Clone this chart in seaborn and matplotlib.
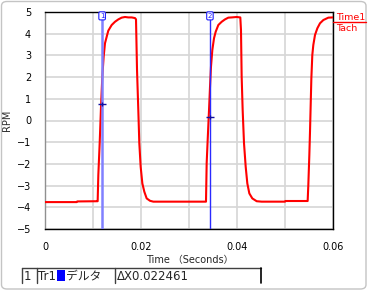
import numpy as np
import pandas as pd
import matplotlib
matplotlib.use("Agg")
import matplotlib.pyplot as plt
import seaborn as sns
from matplotlib.patches import FancyBboxPatch, Rectangle
from matplotlib.lines import Line2D

# ---------------- data ----------------
time_s = [
    0.0, 0.0066, 0.0067, 0.01090, 0.01097, 0.01111, 0.01139, 0.01167, 0.01194,
    0.01222, 0.01250, 0.01285, 0.01319, 0.01389, 0.01458, 0.01528, 0.01597,
    0.01667, 0.01736, 0.01806, 0.01875, 0.01896, 0.01917, 0.01944, 0.01965,
    0.01993, 0.02028, 0.02069, 0.02118, 0.02188, 0.02257,
    0.03340, 0.03354, 0.03368, 0.03389, 0.03417, 0.03438, 0.03458, 0.03486,
    0.03521, 0.03556, 0.03611, 0.03681, 0.03750, 0.03819, 0.03889, 0.03993,
    0.04069, 0.04083, 0.04097, 0.04118, 0.04146, 0.04181, 0.04215, 0.04257,
    0.04319, 0.04410, 0.04514, 0.0500, 0.0501,
    0.05472, 0.05486, 0.05507, 0.05521, 0.05535, 0.05549, 0.05569, 0.05590,
    0.05625, 0.05674, 0.05729, 0.05799, 0.05903, 0.06000,
]
rpm = [
    -3.76, -3.76, -3.73, -3.72, -3.72, -2.51, -1.05, 0.64, 2.02,
    2.94, 3.56, 3.86, 4.14, 4.40, 4.55, 4.66, 4.74,
    4.77, 4.75, 4.75, 4.72, 4.66, 2.33, 0.48, -1.05,
    -2.13, -2.90, -3.28, -3.59, -3.70, -3.74,
    -3.74, -3.74, -1.97, -0.90, 0.48, 1.56, 2.48, 3.25,
    3.79, 4.09, 4.40, 4.55, 4.66, 4.74, 4.75, 4.77,
    4.75, 4.17, 2.02, 0.48, -1.05, -2.13, -2.90, -3.36,
    -3.59, -3.72, -3.74, -3.74, -3.71,
    -3.71, -2.97, -1.59, -0.51, 0.71, 1.94, 3.02, 3.48,
    3.94, 4.25, 4.48, 4.63, 4.74, 4.75,
]
cursor_times = [0.01190, 0.03436]
cursor_values = [0.75, 0.15]
cursor_names = ["1", "2"]
x_ticks = [0.0, 0.01, 0.02, 0.03, 0.04, 0.05, 0.06]
x_tick_labels = ["0", "", "0.02", "", "0.04", "", "0.06"]
y_ticks = [-5, -4, -3, -2, -1, 0, 1, 2, 3, 4, 5]
legend_labels = ["Time1", "Tach"]
status_fields = ["1", "Tr1", "デルタ", "ΔX0.022461"]

# ---------------- figure ----------------
W, H = 369, 291
sns.set_style("white")
plt.rcParams["font.family"] = ["DejaVu Sans", "Noto Sans CJK JP"]

fig = plt.figure(figsize=(W / 100, H / 100), dpi=100)
fig.patch.set_facecolor("white")


def fx(px):
    return px / W


def fy(py):
    return 1 - py / H


ax = fig.add_axes([fx(45), fy(229), fx(333) - fx(45), fy(12) - fy(229)])

df = pd.DataFrame({"t": time_s, "rpm": rpm})
sns.lineplot(data=df, x="t", y="rpm", ax=ax, color="#ff0000", lw=1.5,
             sort=False, estimator=None, zorder=3)

ax.set_xlim(0, 0.06)
ax.set_ylim(-5, 5)
ax.set_xticks(x_ticks)
ax.set_xticklabels(x_tick_labels)
ax.set_yticks(y_ticks)
ax.set_yticklabels([str(v).replace("-", "\u2212") for v in y_ticks])
ax.grid(True, color="#d6d6d6", lw=1.2, zorder=0)
ax.set_axisbelow(True)
ax.tick_params(axis="both", direction="out", length=3, width=0.8,
               colors="black", labelsize=7)
ax.tick_params(axis="y", pad=7)
ax.tick_params(axis="x", pad=6)
for s in ["top", "bottom", "right"]:
    ax.spines[s].set_color("black")
    ax.spines[s].set_linewidth(1.0)
ax.spines["left"].set_color("#909090")
ax.spines["left"].set_linewidth(1.0)
ax.set_xlabel("")
ax.set_ylabel("RPM", fontsize=7)
ax.yaxis.set_label_coords((12 - 45) / 288, 0.5)

# cursors
cur_colors = ["#8080ff", "#2a2aff"]
cur_lw = [1.8, 1.0]
for ct, cv, cn, cc, lw in zip(cursor_times, cursor_values, cursor_names,
                              cur_colors, cur_lw):
    ax.axvline(ct, color=cc, lw=lw, zorder=4)
    ax.plot([ct], [cv], marker="_", ms=6, mew=1.0, color="#1010a0", zorder=5)
    ax.plot([ct], [cv], marker="|", ms=3, mew=1.0, color="#1010a0", zorder=5)
    ax.text(ct, 4.96, cn, ha="center", va="top", fontsize=5, color="#2020ff",
            zorder=6,
            bbox=dict(boxstyle="round,pad=0.15,rounding_size=0.2",
                      fc="white", ec="#2020ff", lw=0.8))

# legend labels at right
fig.text(fx(336), fy(17), legend_labels[0], color="#ff0000", fontsize=6.8,
         ha="left", va="center")
fig.add_artist(Line2D([fx(333), fx(366)], [fy(22), fy(22)], color="#ff0000",
                      lw=1.0))
fig.text(fx(336), fy(28.5), legend_labels[1], color="#ff0000", fontsize=6.8,
         ha="left", va="center")

# x-axis label
fig.text(fx(190), fy(260), "Time \uff08Seconds\uff09", fontsize=7, ha="center",
         va="center")

# status bar
top, bot = 268, 283
fig.add_artist(Line2D([fx(22), fx(261)], [fy(top), fy(top)], color="#404040",
                      lw=1.0))
for xv in [22, 36.5, 115]:
    fig.add_artist(Line2D([fx(xv), fx(xv)], [fy(top), fy(bot)],
                          color="#404040", lw=1.0))
fig.add_artist(Line2D([fx(261), fx(261)], [fy(top), fy(bot)], color="black",
                      lw=1.2))
fig.add_artist(Rectangle((fx(56.5), fy(281)), fx(65) - fx(56.5),
                         fy(270) - fy(281), fc="#0000ff", ec="none"))
ty = fy(276)
fig.text(fx(24), ty, status_fields[0], fontsize=8.5, ha="left", va="center")
fig.text(fx(38), ty, status_fields[1], fontsize=8.5, ha="left", va="center")
fig.text(fx(66), ty, status_fields[2], fontsize=8.5, ha="left", va="center")
fig.text(fx(117), ty, status_fields[3], fontsize=8.5, ha="left", va="center")

# outer rounded frame
fig.add_artist(FancyBboxPatch((fx(1.5), fy(289)), fx(366) - fx(1.5),
                              fy(1.5) - fy(289),
                              boxstyle="round,pad=0,rounding_size=0.015",
                              fc="none", ec="#c4c4c4", lw=1.0))

fig.savefig("out.png", dpi=100)
